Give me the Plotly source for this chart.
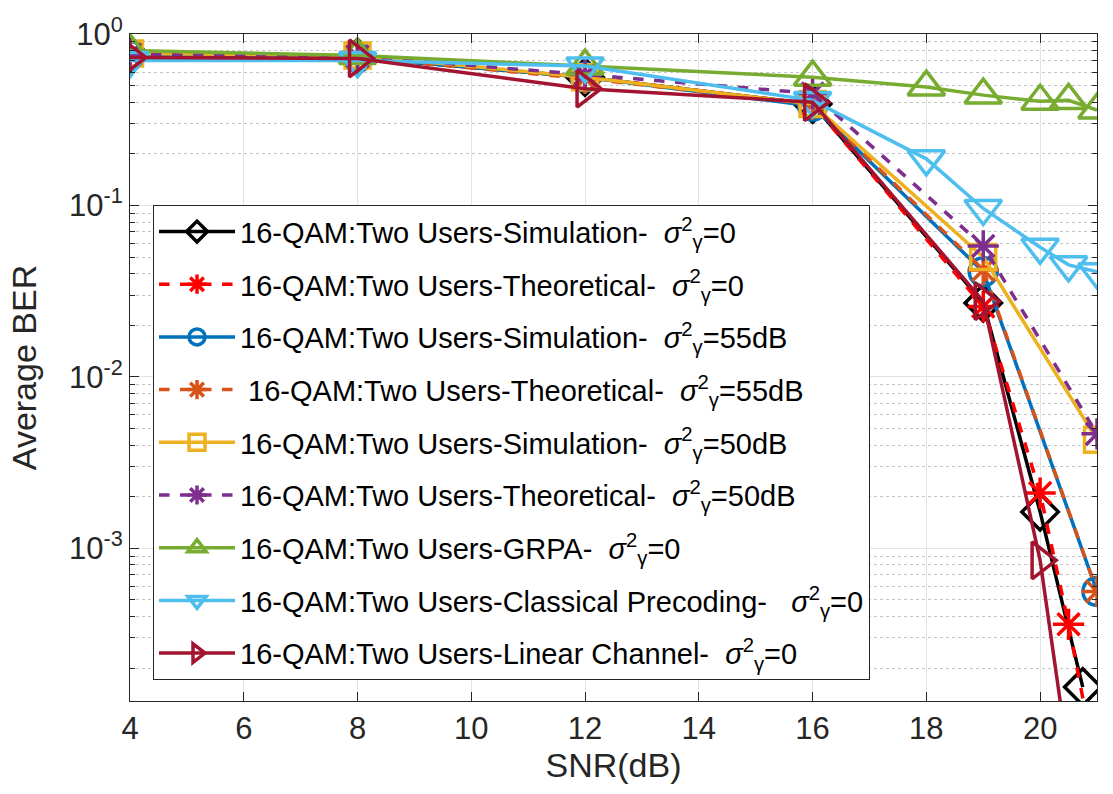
import plotly.graph_objects as go
import math

# ---------------- data ----------------
snr_sim0 = [4, 8, 12, 16, 19, 20, 20.75]
ber_sim0 = [0.76, 0.73, 0.56, 0.39, 0.027, 1.63e-3, 1.55e-4]

snr_th0 = [4, 8, 12, 16, 19, 20, 20.5, 21]
ber_th0 = [0.76, 0.73, 0.56, 0.39, 0.0257, 2.1e-3, 3.6e-4, 5e-5]

snr_55_50 = [4, 8, 12, 16, 19, 21]
ber_sim55 = [0.75, 0.73, 0.56, 0.38, 0.041, 5.6e-4]
ber_th55 = [0.75, 0.73, 0.55, 0.39, 0.042, 5.6e-4]
ber_sim50 = [0.77, 0.75, 0.56, 0.39, 0.050, 4.3e-3]
ber_th50 = [0.76, 0.74, 0.58, 0.45, 0.058, 4.65e-3]

snr_grpa = [4, 8, 12, 16, 18, 19, 20, 20.5, 21]
ber_grpa = [0.80, 0.75, 0.65, 0.56, 0.49, 0.44, 0.405, 0.41, 0.36]

snr_cp = [4, 8, 12, 16, 18, 19, 20, 20.5, 21]
ber_cp = [0.70, 0.70, 0.65, 0.41, 0.187, 0.096, 0.057, 0.045, 0.041]

snr_lc = [4, 8, 12, 16, 19, 20, 21]
ber_lc = [0.73, 0.72, 0.48, 0.40, 0.0276, 8.5e-4, 4e-6]

x_ticks = [4, 6, 8, 10, 12, 14, 16, 18, 20]
y_ticks = [1e-3, 1e-2, 1e-1, 1]
y_ticktext = ["10<sup>-3</sup>", "10<sup>-2</sup>", "10<sup>-1</sup>", "10<sup>0</sup>"]

sp = "\u00a0"
sg = "<i>\u03c3</i><sup>2</sup><sub>\u03b3</sub>"
names = [
    "16-QAM:Two Users-Simulation-" + sp * 2 + sg + "=0",
    "16-QAM:Two Users-Theoretical-" + sp * 2 + sg + "=0",
    "16-QAM:Two Users-Simulation-" + sp * 2 + sg + "=55dB",
    sp + "16-QAM:Two Users-Theoretical-" + sp * 2 + sg + "=55dB",
    "16-QAM:Two Users-Simulation-" + sp * 2 + sg + "=50dB",
    "16-QAM:Two Users-Theoretical-" + sp * 2 + sg + "=50dB",
    "16-QAM:Two Users-GRPA-" + sp * 2 + sg + "=0",
    "16-QAM:Two Users-Classical Precoding-" + sp * 3 + sg + "=0",
    "16-QAM:Two Users-Linear Channel-" + sp * 2 + sg + "=0",
]

series = [
    (snr_sim0, ber_sim0, "#000000", "solid", "diamond-open", 28),
    (snr_th0, ber_th0, "#FF0000", "dash", "asterisk-open", 26),
    (snr_55_50, ber_sim55, "#0072BD", "solid", "circle-open", 28),
    (snr_55_50, ber_th55, "#D95319", "dash", "asterisk-open", 26),
    (snr_55_50, ber_sim50, "#EDB120", "solid", "square-open", 25),
    (snr_55_50, ber_th50, "#7E2F8E", "dash", "asterisk-open", 26),
    (snr_grpa, ber_grpa, "#77AC30", "solid", "triangle-up-open", 32),
    (snr_cp, ber_cp, "#4DBEEE", "solid", "triangle-down-open", 32),
    (snr_lc, ber_lc, "#A2142F", "solid", "triangle-right-open", 32),
]

fig = go.Figure()
for i, (xs, ys, col, dash, sym, sz) in enumerate(series):
    fig.add_trace(go.Scatter(
        x=xs, y=ys, mode="lines+markers", name=names[i],
        legendgroup="g%d" % i,
        line=dict(color=col, width=3.5, dash=dash),
        marker=dict(symbol=sym, size=sz, color=col, line=dict(color=col, width=3.5)),
        cliponaxis=True,
    ))

axis_col = "#262626"
fig.update_layout(
    width=1113, height=794,
    margin=dict(l=130, r=16, t=23, b=93),
    paper_bgcolor="white", plot_bgcolor="white",
    font=dict(family="Liberation Sans, Arial, sans-serif", color=axis_col, size=29),
    showlegend=True,
    legend=dict(
        x=0.0238, y=0.7434, xanchor="left", yanchor="top",
        bgcolor="white", bordercolor=axis_col, borderwidth=1,
        font=dict(size=29, color="#000000"),
        itemwidth=76, tracegroupgap=12,
    ),
    xaxis=dict(
        range=[4, 21], tickvals=x_ticks, showgrid=True, gridcolor="#e3e3e3",
        gridwidth=1, zeroline=False, showline=True, linecolor=axis_col,
        linewidth=1, mirror="ticks", ticks="inside", ticklen=9,
        tickcolor=axis_col, tickfont=dict(size=31),
        title=dict(text="SNR(dB)", font=dict(size=34), standoff=6),
    ),
    yaxis=dict(
        type="log", range=[math.log10(1.285e-4), 0],
        tickvals=y_ticks, ticktext=y_ticktext,
        showgrid=True, gridcolor="#e3e3e3", gridwidth=1, zeroline=False,
        showline=True, linecolor=axis_col, linewidth=1, mirror="ticks",
        ticks="inside", ticklen=9, tickcolor=axis_col,
        tickfont=dict(size=31),
        minor=dict(dtick="D1", ticks="inside", ticklen=5, tickcolor=axis_col,
                   showgrid=True, gridcolor="#c4c4c4", griddash="dot", gridwidth=1),
        title=dict(text="Average BER", font=dict(size=34), standoff=22),
    ),
)

fig.write_html("out.html")
